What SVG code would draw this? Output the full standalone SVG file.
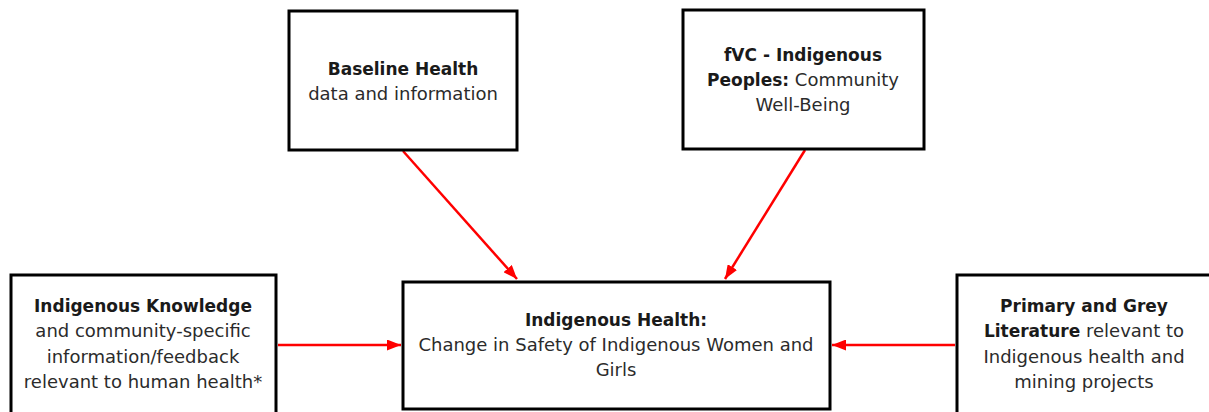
<svg xmlns="http://www.w3.org/2000/svg" width="1209" height="412" viewBox="0 0 1209 412">
  <defs>
    <marker id="arrow" viewBox="0 0 14 11" refX="14" refY="5.5" markerWidth="14" markerHeight="11" markerUnits="userSpaceOnUse" orient="auto">
      <path d="M0,0 L14,5.5 L0,11 Z" fill="#ff0000"/>
    </marker>
    <style>
      .box { fill: #ffffff; stroke: #000000; stroke-width: 3; }
      .label { font-family: "DejaVu Sans", "Noto Sans", sans-serif; font-size: 18px; fill: #2b2b2b; text-anchor: middle; }
      .b { font-weight: bold; font-size: 17px; fill: #1a1a1a; }
      .link { stroke: #ff0000; stroke-width: 2.5; fill: none; marker-end: url(#arrow); }
    </style>
  </defs>
  <rect width="1209" height="412" fill="#ffffff"/>

  <!-- arrows feeding the central box -->
  <g id="connectors">
    <line class="link" x1="403" y1="151" x2="517" y2="279"/>
    <line class="link" x1="805" y1="150" x2="725" y2="279"/>
    <line class="link" x1="278" y1="345" x2="401" y2="345"/>
    <line class="link" x1="955" y1="345" x2="832" y2="345"/>
  </g>

  <g id="baseline-health">
    <rect class="box" x="289" y="11" width="228" height="139"/>
    <text class="label" x="403" y="75"><tspan class="b">Baseline Health</tspan></text>
    <text class="label" x="403" y="100">data and information</text>
  </g>

  <g id="fvc-indigenous-peoples">
    <rect class="box" x="683" y="10" width="241" height="139"/>
    <text class="label" x="803" y="61"><tspan class="b">fVC - Indigenous</tspan></text>
    <text class="label" x="803" y="86"><tspan class="b">Peoples:</tspan> Community</text>
    <text class="label" x="803" y="111">Well-Being</text>
  </g>

  <g id="indigenous-knowledge">
    <rect class="box" x="11" y="275" width="265" height="150"/>
    <text class="label" x="143" y="312"><tspan class="b">Indigenous Knowledge</tspan></text>
    <text class="label" x="143" y="337">and community-specific</text>
    <text class="label" x="143" y="363">information/feedback</text>
    <text class="label" x="143" y="388">relevant to human health*</text>
  </g>

  <g id="indigenous-health">
    <rect class="box" x="403" y="282" width="427" height="127"/>
    <text class="label" x="616" y="326"><tspan class="b">Indigenous Health:</tspan></text>
    <text class="label" x="616" y="351">Change in Safety of Indigenous Women and</text>
    <text class="label" x="616" y="376">Girls</text>
  </g>

  <g id="primary-grey-literature">
    <rect class="box" x="957" y="275" width="270" height="150"/>
    <text class="label" x="1084" y="312"><tspan class="b">Primary and Grey</tspan></text>
    <text class="label" x="1084" y="337"><tspan class="b">Literature</tspan> relevant to</text>
    <text class="label" x="1084" y="363">Indigenous health and</text>
    <text class="label" x="1084" y="388">mining projects</text>
  </g>
</svg>
